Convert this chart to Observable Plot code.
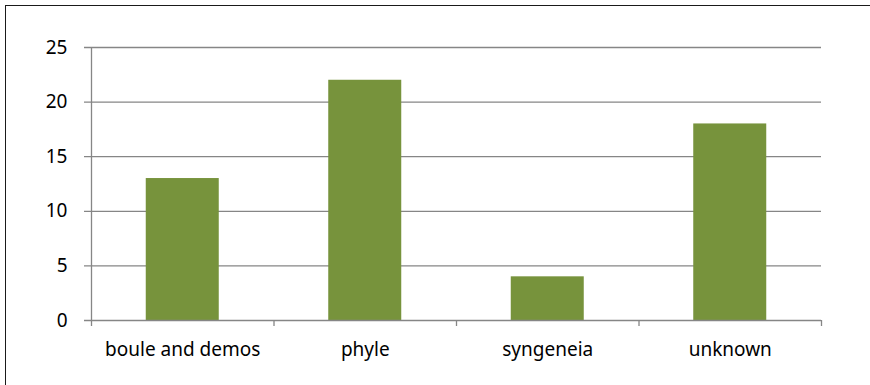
<!DOCTYPE html>
<html>
<head>
<meta charset="utf-8">
<script src="https://cdn.jsdelivr.net/npm/d3@7"></script>
<script src="https://cdn.jsdelivr.net/npm/@observablehq/plot@0.6"></script>
<style>
  html, body { margin: 0; padding: 0; background: #fff; }
  #frame {
    position: absolute; left: 5px; top: 5px; width: 900px; height: 420px;
    border-left: 1px solid #1a1a1a; border-top: 1px solid #1a1a1a;
  }
  #chart { position: absolute; left: 0; top: 0; }
</style>
</head>
<body>
<div id="frame"></div>
<div id="chart"></div>
<script>
// Counts per category
const categories = ["boule and demos", "phyle", "syngeneia", "unknown"];
const counts = [13, 22, 4, 18];
const yTicks = [0, 5, 10, 15, 20, 25];

const rows = categories.map((c, i) => ({category: c, index: i, count: counts[i]}));
const grey = "#868686";
const font = "'Noto Sans', sans-serif";
const fs = 19;

const chart = Plot.plot({
  width: 870,
  height: 385,
  marginLeft: 91,
  marginRight: 49,
  marginTop: 47,
  marginBottom: 65,
  style: {fontFamily: font, fontSize: fs + "px", color: "#000", background: "transparent"},
  x: {domain: [0, categories.length], label: null},
  y: {domain: [0, 25], label: null},
  marks: [
    // horizontal gridlines, extended a little left of the axis as tick marks
    Plot.ruleY(yTicks.filter(d => d > 0), {stroke: grey, strokeWidth: 1.3, x1: 0, x2: categories.length, insetLeft: -7}),
    // value axis labels
    Plot.axisY({ticks: yTicks, tickSize: 0, tickPadding: 24, tickFormat: d => d, fontSize: fs, label: null}),
    // bars
    Plot.rectY(rows, {x1: d => d.index + 0.3, x2: d => d.index + 0.7, y: "count", fill: "#77933C"}),
    // value axis line
    Plot.ruleX([0], {stroke: grey, strokeWidth: 1.3}),
    // category axis line with boundary ticks
    Plot.ruleY([0], {stroke: grey, strokeWidth: 1.3, insetLeft: -7}),
    Plot.axisX({ticks: d3.range(categories.length + 1), tickSize: 6, tickFormat: () => "", stroke: grey, strokeWidth: 1.3, label: null}),
    // category labels
    Plot.axisX({ticks: categories.map((c, i) => i + 0.5), tickSize: 0, tickPadding: 22,
      tickFormat: v => categories[Math.floor(v)], fontSize: fs, label: null})
  ]
});
document.getElementById("chart").append(chart);
</script>
</body>
</html>
